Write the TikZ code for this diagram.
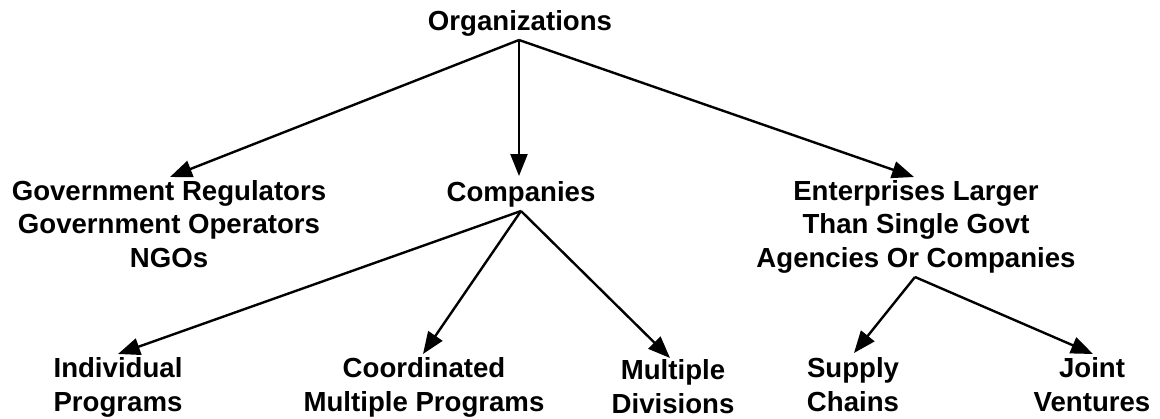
\documentclass[tikz,border=0pt]{standalone}
\usepackage{fontspec}
\setmainfont{Liberation Sans}
\usetikzlibrary{arrows.meta}
\tikzset{
  lbl/.style={inner sep=0pt, anchor=base, align=center,
    font=\fontsize{27.6}{33.3}\selectfont\bfseries},
  arr/.style={line width=2.4pt, -{Triangle[length=22pt,width=17pt]}}
}
\begin{document}
\begin{tikzpicture}[x=1pt,y=-1pt]
\fill[white] (0,0) rectangle (1160,418);
\useasboundingbox (0,0) rectangle (1160,418);
% nodes (anchor = baseline of last line)
\node[lbl] (org) at (520,30) {Organizations};
\node[lbl] (gov) at (169,267) {Government Regulators\\Government Operators\\NGOs};
\node[lbl] (comp) at (521,201) {Companies};
\node[lbl] (ent) at (916,267) {Enterprises Larger\\Than Single Govt\\Agencies Or Companies};
\node[lbl] (ind) at (118,411) {Individual\\Programs};
\node[lbl] (coord) at (424,411) {Coordinated\\Multiple Programs};
\node[lbl] (mdiv) at (673,413) {Multiple\\Divisions};
\node[lbl] (sup) at (853,411) {Supply\\Chains};
\node[lbl] (jv) at (1092,411) {Joint\\Ventures};
% connector points
\coordinate (orgp) at (519,40);
\coordinate (govt) at (170,177);
\coordinate (compt) at (519,176);
\coordinate (entt) at (914,177);
\coordinate (compp) at (521,211);
\coordinate (indt) at (118,354);
\coordinate (coordt) at (423,354);
\coordinate (mdivt) at (670,358);
\coordinate (entp) at (915,277);
\coordinate (supt) at (854,353);
\coordinate (jvt) at (1093,354);
% connectors
\draw[arr] (orgp) -- (govt);
\draw[arr] (orgp) -- (compt);
\draw[arr] (orgp) -- (entt);
\draw[arr] (compp) -- (indt);
\draw[arr] (compp) -- (coordt);
\draw[arr] (compp) -- (mdivt);
\draw[arr] (entp) -- (supt);
\draw[arr] (entp) -- (jvt);
\end{tikzpicture}
\end{document}
